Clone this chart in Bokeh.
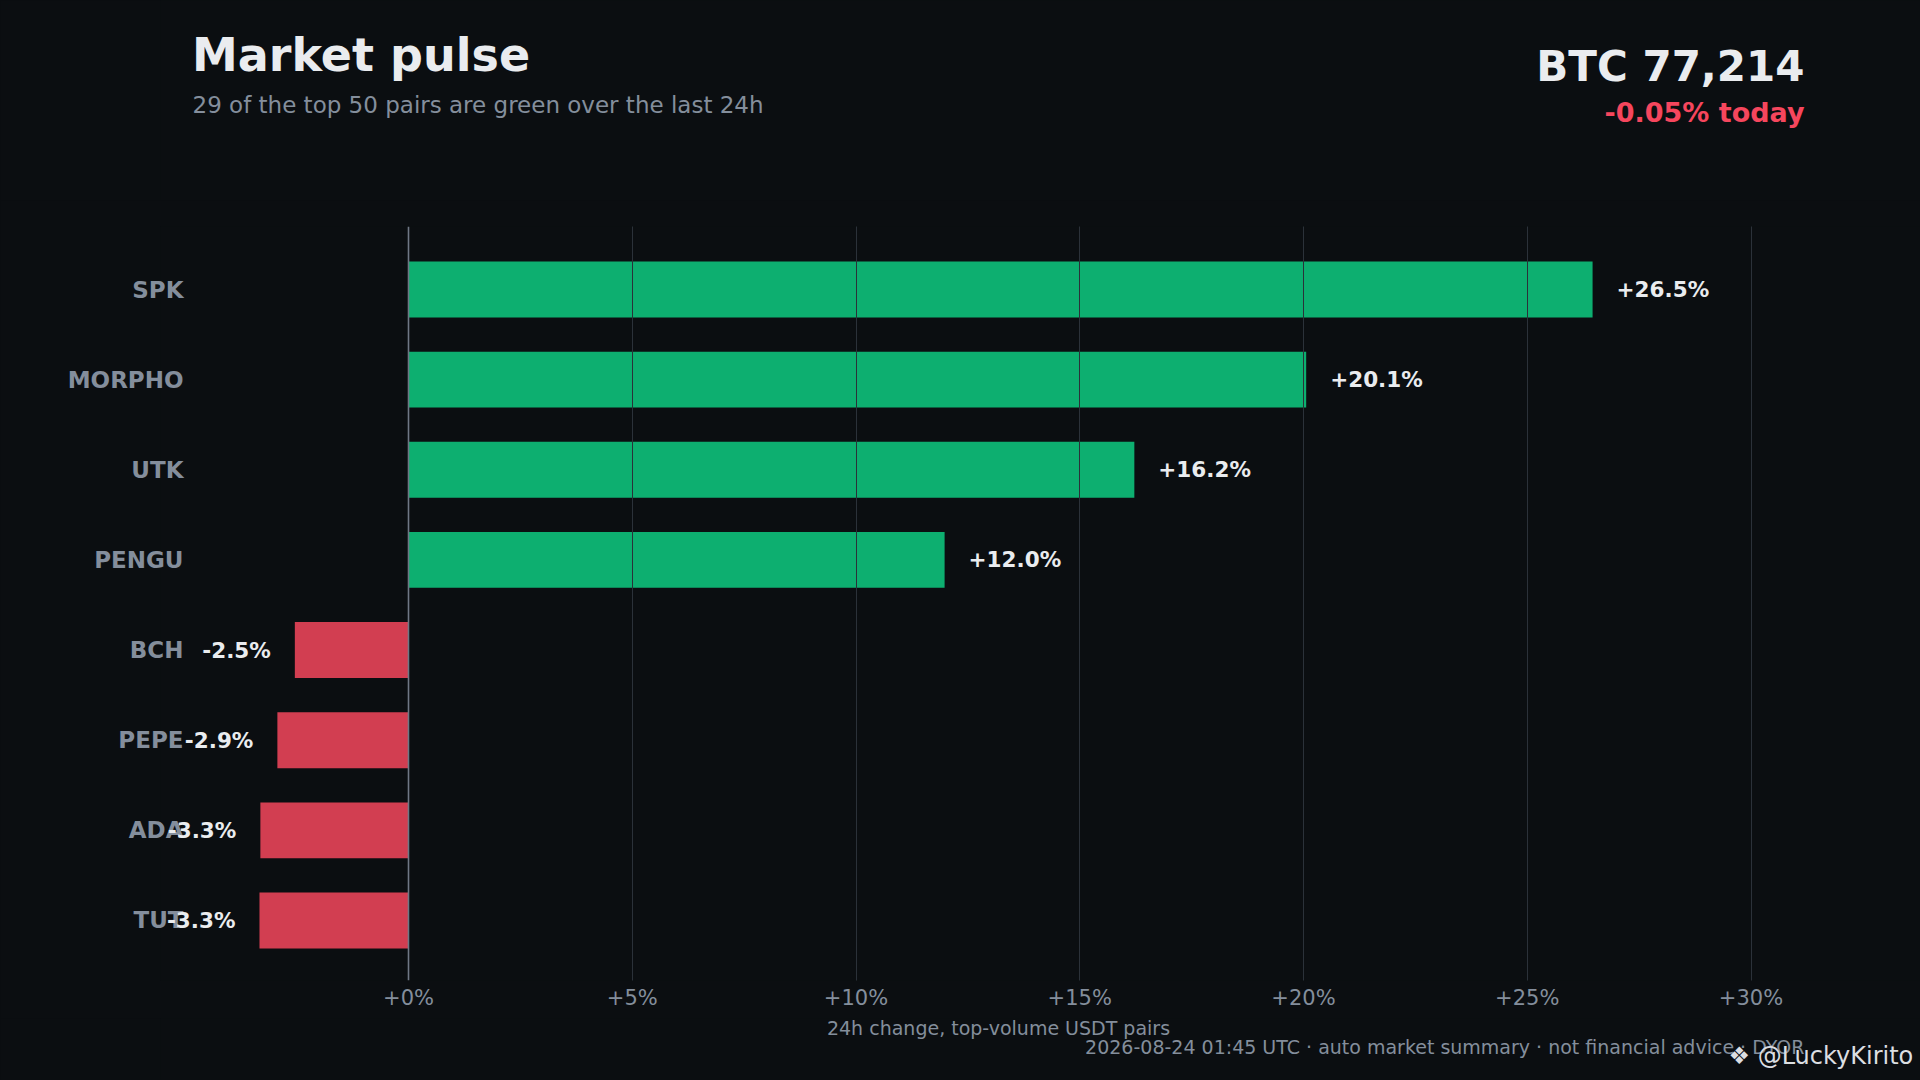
from bokeh.plotting import figure
from bokeh.models import ColumnDataSource, LabelSet, Label, Span, FixedTicker, Range1d
from bokeh.layouts import column
from bokeh.core.properties import value
from bokeh.embed import file_html
from bokeh.resources import INLINE

# ---- data ----
symbols = ["SPK", "MORPHO", "UTK", "PENGU", "BCH", "PEPE", "ADA", "TUT"]
changes = [26.46, 20.06, 16.22, 11.98, -2.54, -2.93, -3.31, -3.33]
x_ticks = [0, 5, 10, 15, 20, 25, 30]
x_tick_labels = ["+0%", "+5%", "+10%", "+15%", "+20%", "+25%", "+30%"]
title_text = "Market pulse"
subtitle_text = "29 of the top 50 pairs are green over the last 24h"
btc_text = "BTC 77,214"
btc_change_text = "-0.05% today"
x_label_text = "24h change, top-volume USDT pairs"
footer_text = "2026-08-24 01:45 UTC \u00b7 auto market summary \u00b7 not financial advice \u00b7 DYOR"
watermark_text = "\u2756 @LuckyKirito"

# ---- style ----
BG = "#0b0e11"
GREEN = "#0ecb81"
RED = "#f6465d"
TEXT = "#eaecef"
MUTED = "#848e9c"
GRID = "#2b3139"
FONT = "DejaVu Sans"

W = 1920
HEAD_H = 200           # header strip: window y 0..200
MAIN_BOTTOM = 1018     # chart strip: 200..1018
FOOT_H = 1080 - MAIN_BOTTOM
FL, FR, FT, FB = 160, 1920, 226, 980   # chart frame edges (window px)
ZERO_PX, PX_PER_PCT = 408, 44.75
X0, X1 = (FL - ZERO_PX) / PX_PER_PCT, (FR - ZERO_PX) / PX_PER_PCT
Y0, Y1 = -0.666, 7.699


def strip(height):
    # frames of plots in a column share left/right edges -> x range in window px
    f = figure(width=W, height=height, output_backend="svg", toolbar_location=None,
               title_location=None,
               x_range=Range1d(FL, FR), y_range=Range1d(height, 0),
               x_axis_type=None, y_axis_type=None,
               min_border_left=FL, min_border_right=W - FR,
               min_border_top=0, min_border_bottom=0)
    f.background_fill_color = BG
    f.border_fill_color = BG
    f.outline_line_color = None
    f.styles = {"background-color": BG}
    return f


def lab(f, text, px, py, size, color, style="normal", align="left"):
    f.add_layout(Label(x=px, y=py, text=text, text_font=FONT,
                       text_font_size=size, text_font_style=style, text_color=color,
                       text_align=align, text_baseline="middle"))


# ---- header ----
head = strip(HEAD_H)
lab(head, title_text, 191.5, 54, "46px", TEXT, "bold")
lab(head, subtitle_text, 192, 104.5, "23px", MUTED)
lab(head, btc_text, 1804, 66, "42px", TEXT, "bold", "right")
lab(head, btc_change_text, 1804, 112, "27px", RED, "bold", "right")

# ---- main chart ----
n = len(symbols)
ypos = [n - 1 - i for i in range(n)]
colors = [GREEN if v >= 0 else RED for v in changes]
labels = [("+" if v >= 0 else "") + f"{v:.1f}%" for v in changes]

src = ColumnDataSource(dict(y=ypos, v=changes, c=colors, t=labels))
pos_src = ColumnDataSource(dict(
    y=[y for y, v in zip(ypos, changes) if v >= 0],
    v=[v for v in changes if v >= 0],
    t=[t for t, v in zip(labels, changes) if v >= 0]))
neg_src = ColumnDataSource(dict(
    y=[y for y, v in zip(ypos, changes) if v < 0],
    v=[v for v in changes if v < 0],
    t=[t for t, v in zip(labels, changes) if v < 0]))

MAIN_H = MAIN_BOTTOM - HEAD_H
p = figure(width=W, height=MAIN_H, output_backend="svg", toolbar_location=None,
           title_location=None,
           x_range=Range1d(X0, X1), y_range=Range1d(Y0, Y1),
           min_border_left=FL, min_border_right=W - FR,
           min_border_top=FT - HEAD_H, min_border_bottom=MAIN_BOTTOM - FB)
p.background_fill_color = BG
p.border_fill_color = BG
p.outline_line_color = None
p.styles = {"background-color": BG}

p.hbar(y="y", right="v", left=0, height=0.62, color="c", fill_alpha=0.85,
       line_color=None, source=src)

p.xaxis.ticker = FixedTicker(ticks=x_ticks)
p.xaxis.major_label_overrides = {t: l for t, l in zip(x_ticks, x_tick_labels)}
p.xaxis.axis_line_color = None
p.xaxis.major_tick_line_color = None
p.xaxis.minor_tick_line_color = None
p.xaxis.major_tick_out = 0
p.xaxis.major_tick_in = 0
p.xaxis.minor_tick_out = 0
p.xaxis.major_label_text_font = FONT
p.xaxis.major_label_text_font_size = "21px"
p.xaxis.major_label_text_color = MUTED
p.xaxis.major_label_standoff = 5

p.yaxis.ticker = FixedTicker(ticks=ypos)
p.yaxis.major_label_overrides = {y: s for y, s in zip(ypos, symbols)}
p.yaxis.axis_line_color = None
p.yaxis.major_tick_line_color = None
p.yaxis.minor_tick_line_color = None
p.yaxis.major_tick_out = 0
p.yaxis.major_tick_in = 0
p.yaxis.minor_tick_out = 0
p.yaxis.major_label_text_font = FONT
p.yaxis.major_label_text_font_size = "23px"
p.yaxis.major_label_text_font_style = "bold"
p.yaxis.major_label_text_color = MUTED
p.yaxis.major_label_standoff = -23

p.xgrid.ticker = FixedTicker(ticks=x_ticks[1:])
p.xgrid.grid_line_color = GRID
p.xgrid.grid_line_width = 1
p.xgrid.level = "overlay"
p.ygrid.grid_line_color = None

p.add_layout(Span(location=0, dimension="height", line_color="#6f7785", line_width=1.6))

p.add_layout(LabelSet(x="v", y="y", text="t", source=pos_src, x_offset=24,
                      text_align="left", text_baseline="middle",
                      text_font=value(FONT), text_font_size=value("21.5px"),
                      text_font_style="bold", text_color=TEXT))
p.add_layout(LabelSet(x="v", y="y", text="t", source=neg_src, x_offset=-24,
                      text_align="right", text_baseline="middle",
                      text_font=value(FONT), text_font_size=value("21.5px"),
                      text_font_style="bold", text_color=TEXT))

# ---- footer (x-axis title, credits) ----
foot = strip(FOOT_H)
lab(foot, x_label_text, 998, 1027 - MAIN_BOTTOM, "19px", MUTED, "normal", "center")
lab(foot, footer_text, 1804, 1046 - MAIN_BOTTOM, "19px", MUTED, "normal", "right")
lab(foot, watermark_text, 1728, 1055 - MAIN_BOTTOM, "24px", "#dcdee2", "normal", "left")

page = column(head, p, foot, spacing=0, styles={"background-color": BG})
open("out.html", "w").write(file_html(page, INLINE))
